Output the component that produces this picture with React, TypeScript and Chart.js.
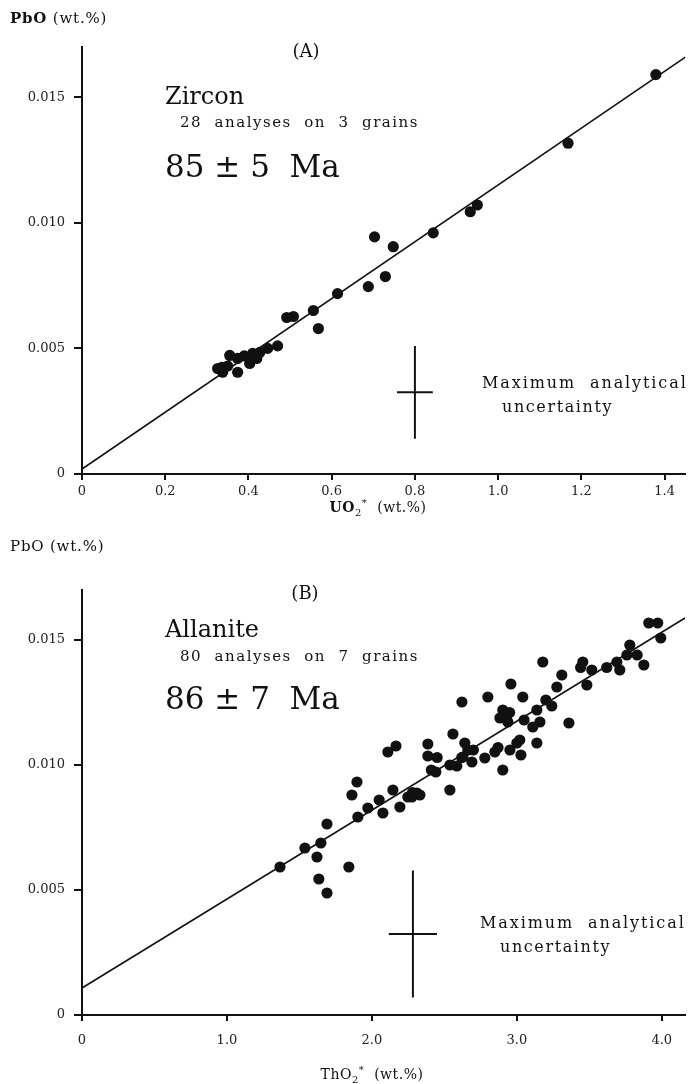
import React, { useEffect, useRef } from "react";
import { Chart, registerables } from "chart.js";
Chart.register(...registerables);

// ---------- Panel A : Zircon ----------
const zirconUO2 = [1.379, 1.168, 0.933, 0.95, 0.844, 0.703, 0.748, 0.729, 0.688, 0.614, 0.556, 0.568, 0.492, 0.508, 0.446, 0.427, 0.41, 0.403, 0.374, 0.355, 0.374, 0.336, 0.338, 0.326, 0.39, 0.35, 0.47, 0.42];
const zirconPbO = [0.0159, 0.01317, 0.01044, 0.01071, 0.0096, 0.00944, 0.00905, 0.00786, 0.00746, 0.00718, 0.00651, 0.00579, 0.00623, 0.00627, 0.005, 0.00484, 0.0048, 0.0044, 0.00405, 0.00472, 0.0046, 0.00425, 0.00405, 0.0042, 0.0047, 0.0043, 0.0051, 0.0046];
const zirconFitUO2 = [0, 1.45];
const zirconFitPbO = [0.0002, 0.0166];
const zirconErrCenter = [0.8, 0.00325];
const zirconErrHalf = [0.043, 0.00185];
const zirconXTicks = [0, 0.2, 0.4, 0.6, 0.8, 1.0, 1.2, 1.4];
const zirconXTickLabels = ["0", "0.2", "0.4", "0.6", "0.8", "1.0", "1.2", "1.4"];
const zirconXRange = [0, 1.45];

// ---------- Panel B : Allanite ----------
const allaniteThO2 = [3.91, 3.972, 3.993, 3.876, 3.779, 3.759, 3.69, 3.71, 3.455, 3.517, 3.483, 3.31, 3.276, 3.179, 3.241, 3.138, 3.159, 3.11, 3.359, 3.138, 3.041, 2.959, 2.903, 2.931, 2.883, 2.938, 3.0, 2.952, 3.028, 2.903, 2.848, 2.779, 2.8, 2.621, 2.641, 2.662, 2.69, 2.628, 2.559, 2.586, 2.538, 2.441, 2.538, 2.386, 2.386, 2.166, 2.11, 2.31, 2.276, 2.331, 2.248, 2.145, 2.193, 2.076, 1.897, 1.862, 1.972, 1.903, 1.69, 1.648, 1.538, 1.621, 1.366, 1.841, 1.634, 1.69, 2.95, 3.05, 2.45, 3.62, 2.7, 2.28, 3.2, 2.87, 2.05, 3.44, 2.62, 3.83, 2.41, 3.02];
const allanitePbO = [0.01568, 0.01568, 0.01508, 0.014, 0.0148, 0.0144, 0.01412, 0.0138, 0.01412, 0.0138, 0.0132, 0.0136, 0.01312, 0.01412, 0.01236, 0.0122, 0.01172, 0.01152, 0.01168, 0.01088, 0.01272, 0.01324, 0.0122, 0.012, 0.01188, 0.01172, 0.01088, 0.0106, 0.0104, 0.0098, 0.01052, 0.01028, 0.01272, 0.01252, 0.01088, 0.0106, 0.01012, 0.01032, 0.01124, 0.00996, 0.01, 0.00972, 0.009, 0.01084, 0.01036, 0.01076, 0.01052, 0.00888, 0.00872, 0.0088, 0.00872, 0.009, 0.00832, 0.00808, 0.00932, 0.0088, 0.00828, 0.00792, 0.00764, 0.00688, 0.00668, 0.00632, 0.00592, 0.00592, 0.00544, 0.00488, 0.0121, 0.0118, 0.0103, 0.0139, 0.0106, 0.0089, 0.0126, 0.0107, 0.0086, 0.0139, 0.0103, 0.0144, 0.0098, 0.011];
const allaniteFitThO2 = [0, 4.16];
const allaniteFitPbO = [0.00108, 0.01588];
const allaniteErrCenter = [2.283, 0.00324];
const allaniteErrHalf = [0.166, 0.00254];
const thXTicks = [0, 1, 2, 3, 4];
const thXTickLabels = ["0", "1.0", "2.0", "3.0", "4.0"];
const thXRange = [0, 4.16];

// ---------- shared y axis ----------
const pbYTicks = [0, 0.005, 0.01, 0.015];
const pbYTickLabels = ["0", "0.005", "0.010", "0.015"];
const pbYRange = [0, 0.017];

const SERIF = '"DejaVu Serif", "Liberation Serif", serif';

type Seg = { t: string; sub?: boolean; sup?: boolean; bold?: boolean };
type TextItem = { segs: Seg[]; x: number; y: number; size: number; align?: "left" | "center"; spacing?: number };

function drawRich(ctx: CanvasRenderingContext2D, item: TextItem) {
  const { segs, size } = item;
  const spacing = item.spacing || 0;
  const fontFor = (s: Seg) => `${s.bold ? "bold " : ""}${s.sub || s.sup ? Math.round(size * 0.7) : size}px ${SERIF}`;
  ctx.save();
  (ctx as any).letterSpacing = spacing + "px";
  let total = 0;
  const widths = segs.map((s) => {
    ctx.font = fontFor(s);
    const w = ctx.measureText(s.t).width;
    total += w;
    return w;
  });
  let x = item.align === "center" ? item.x - total / 2 : item.x;
  ctx.fillStyle = "#111";
  ctx.textBaseline = "alphabetic";
  ctx.textAlign = "left";
  segs.forEach((s, i) => {
    ctx.font = fontFor(s);
    let y = item.y;
    if (s.sub) y += size * 0.25;
    if (s.sup) y -= size * 0.4;
    ctx.fillText(s.t, x, y);
    x += widths[i];
  });
  ctx.restore();
}

function makeConfig(p: {
  xs: number[]; ys: number[]; fitX: number[]; fitY: number[];
  errC: number[]; errH: number[]; xTicks: number[]; xLabels: string[]; xRange: number[];
  padTop: number; padRight: number; xAxisHeight: number; xTickPad: number; texts: TextItem[];
}) {
  const pts = p.xs.map((x, i) => ({ x, y: p.ys[i] }));
  const fit = p.fitX.map((x, i) => ({ x, y: p.fitY[i] }));
  const vErr = [
    { x: p.errC[0], y: p.errC[1] - p.errH[1] },
    { x: p.errC[0], y: p.errC[1] + p.errH[1] },
  ];
  const hErr = [
    { x: p.errC[0] - p.errH[0], y: p.errC[1] },
    { x: p.errC[0] + p.errH[0], y: p.errC[1] },
  ];
  const lineDs = (data: any[], w: number) => ({
    type: "line" as const, data, borderColor: "#111", borderWidth: w, pointRadius: 0, showLine: true, fill: false,
  });
  const textPlugin = {
    id: "texts",
    afterDraw(chart: any) {
      p.texts.forEach((t) => drawRich(chart.ctx, t));
    },
  };
  return {
    type: "scatter" as const,
    data: {
      datasets: [
        lineDs(fit, 1.6),
        lineDs(vErr, 2),
        lineDs(hErr, 2),
        { type: "scatter" as const, data: pts, backgroundColor: "#111", borderWidth: 0, pointRadius: 5.6, pointHoverRadius: 5.6 },
      ],
    },
    options: {
      animation: false as const,
      responsive: false,
      maintainAspectRatio: false,
      events: [],
      layout: { padding: { top: p.padTop, right: p.padRight, left: 0, bottom: 0 } },
      plugins: { legend: { display: false }, tooltip: { enabled: false }, title: { display: false } },
      scales: {
        x: {
          type: "linear" as const,
          min: p.xRange[0],
          max: p.xRange[1],
          afterBuildTicks: (s: any) => { s.ticks = p.xTicks.map((v) => ({ value: v })); },
          afterFit: (s: any) => { s.height = p.xAxisHeight; },
          ticks: {
            callback: (_v: any, i: number) => p.xLabels[i],
            font: { family: SERIF, size: 13 }, color: "#222", padding: p.xTickPad, maxRotation: 0, autoSkip: false,
          },
          grid: { drawOnChartArea: false, drawTicks: true, tickLength: 6, lineWidth: 2, color: "#111" },
          border: { display: true, width: 2, color: "#111" },
        },
        y: {
          type: "linear" as const,
          min: pbYRange[0],
          max: pbYRange[1],
          afterBuildTicks: (s: any) => { s.ticks = pbYTicks.map((v) => ({ value: v })); },
          afterFit: (s: any) => { s.width = 82; },
          ticks: {
            callback: (_v: any, i: number) => pbYTickLabels[i],
            font: { family: SERIF, size: 13 }, color: "#222", padding: 9, autoSkip: false,
          },
          grid: { drawOnChartArea: false, drawTicks: true, tickLength: 8, lineWidth: 2, color: "#111" },
          border: { display: true, width: 2, color: "#111" },
        },
      },
    },
    plugins: [textPlugin],
  };
}

const A_TOP = 0;
const A_H = 520;
const B_TOP = 528;
const B_H = 556;

const textsA: TextItem[] = [
  { segs: [{ t: "PbO", bold: true }, { t: " (wt.%)" }], x: 10, y: 23 - A_TOP, size: 15, spacing: 0.8 },
  { segs: [{ t: "(A)" }], x: 306, y: 57 - A_TOP, size: 18, align: "center" },
  { segs: [{ t: "Zircon" }], x: 165, y: 104 - A_TOP, size: 24 },
  { segs: [{ t: "28  analyses  on  3  grains" }], x: 180, y: 127 - A_TOP, size: 15, spacing: 1.5 },
  { segs: [{ t: "85 ± 5  Ma" }], x: 165, y: 177 - A_TOP, size: 31 },
  { segs: [{ t: "Maximum  analytical" }], x: 482, y: 388 - A_TOP, size: 16, spacing: 1.9 },
  { segs: [{ t: "uncertainty" }], x: 502, y: 412 - A_TOP, size: 16, spacing: 1.6 },
  { segs: [{ t: "UO", bold: true }, { t: "2", sub: true }, { t: "*", sup: true }, { t: "  (wt.%)" }], x: 378, y: 512 - A_TOP, size: 14, align: "center", spacing: 0.5 },
];

const textsB: TextItem[] = [
  { segs: [{ t: "PbO (wt.%)" }], x: 10, y: 551 - B_TOP, size: 15, spacing: 0.8 },
  { segs: [{ t: "(B)" }], x: 305, y: 599 - B_TOP, size: 18, align: "center" },
  { segs: [{ t: "Allanite" }], x: 165, y: 637 - B_TOP, size: 24 },
  { segs: [{ t: "80  analyses  on  7  grains" }], x: 180, y: 661 - B_TOP, size: 15, spacing: 1.5 },
  { segs: [{ t: "86 ± 7  Ma" }], x: 165, y: 709 - B_TOP, size: 31 },
  { segs: [{ t: "Maximum  analytical" }], x: 480, y: 928 - B_TOP, size: 16, spacing: 1.9 },
  { segs: [{ t: "uncertainty" }], x: 500, y: 952 - B_TOP, size: 16, spacing: 1.6 },
  { segs: [{ t: "ThO" }, { t: "2", sub: true }, { t: "*", sup: true }, { t: "  (wt.%)" }], x: 372, y: 1079 - B_TOP, size: 14, align: "center", spacing: 0.5 },
];

function Panel(props: { top: number; height: number; cfg: any }) {
  const ref = useRef<HTMLCanvasElement | null>(null);
  useEffect(() => {
    if (!ref.current) return;
    const chart = new Chart(ref.current, props.cfg);
    return () => chart.destroy();
  }, []);
  return (
    <canvas
      ref={ref}
      width={691}
      height={props.height}
      style={{ position: "absolute", left: 0, top: props.top, width: 691, height: props.height, display: "block" }}
    />
  );
}

export default function App() {
  const cfgA = makeConfig({
    xs: zirconUO2, ys: zirconPbO, fitX: zirconFitUO2, fitY: zirconFitPbO,
    errC: zirconErrCenter, errH: zirconErrHalf, xTicks: zirconXTicks, xLabels: zirconXTickLabels, xRange: zirconXRange,
    padTop: 47 - A_TOP, padRight: 3, xAxisHeight: A_H - (474 - A_TOP), xTickPad: 4, texts: textsA,
  });
  const cfgB = makeConfig({
    xs: allaniteThO2, ys: allanitePbO, fitX: allaniteFitThO2, fitY: allaniteFitPbO,
    errC: allaniteErrCenter, errH: allaniteErrHalf, xTicks: thXTicks, xLabels: thXTickLabels, xRange: thXRange,
    padTop: 590 - B_TOP, padRight: 6, xAxisHeight: B_H - (1015 - B_TOP), xTickPad: 12, texts: textsB,
  });
  return (
    <div style={{ position: "absolute", left: 0, top: 0, width: 691, height: 1084, background: "#fff", overflow: "hidden" }}>
      <Panel top={A_TOP} height={A_H} cfg={cfgA} />
      <Panel top={B_TOP} height={B_H} cfg={cfgB} />
    </div>
  );
}
